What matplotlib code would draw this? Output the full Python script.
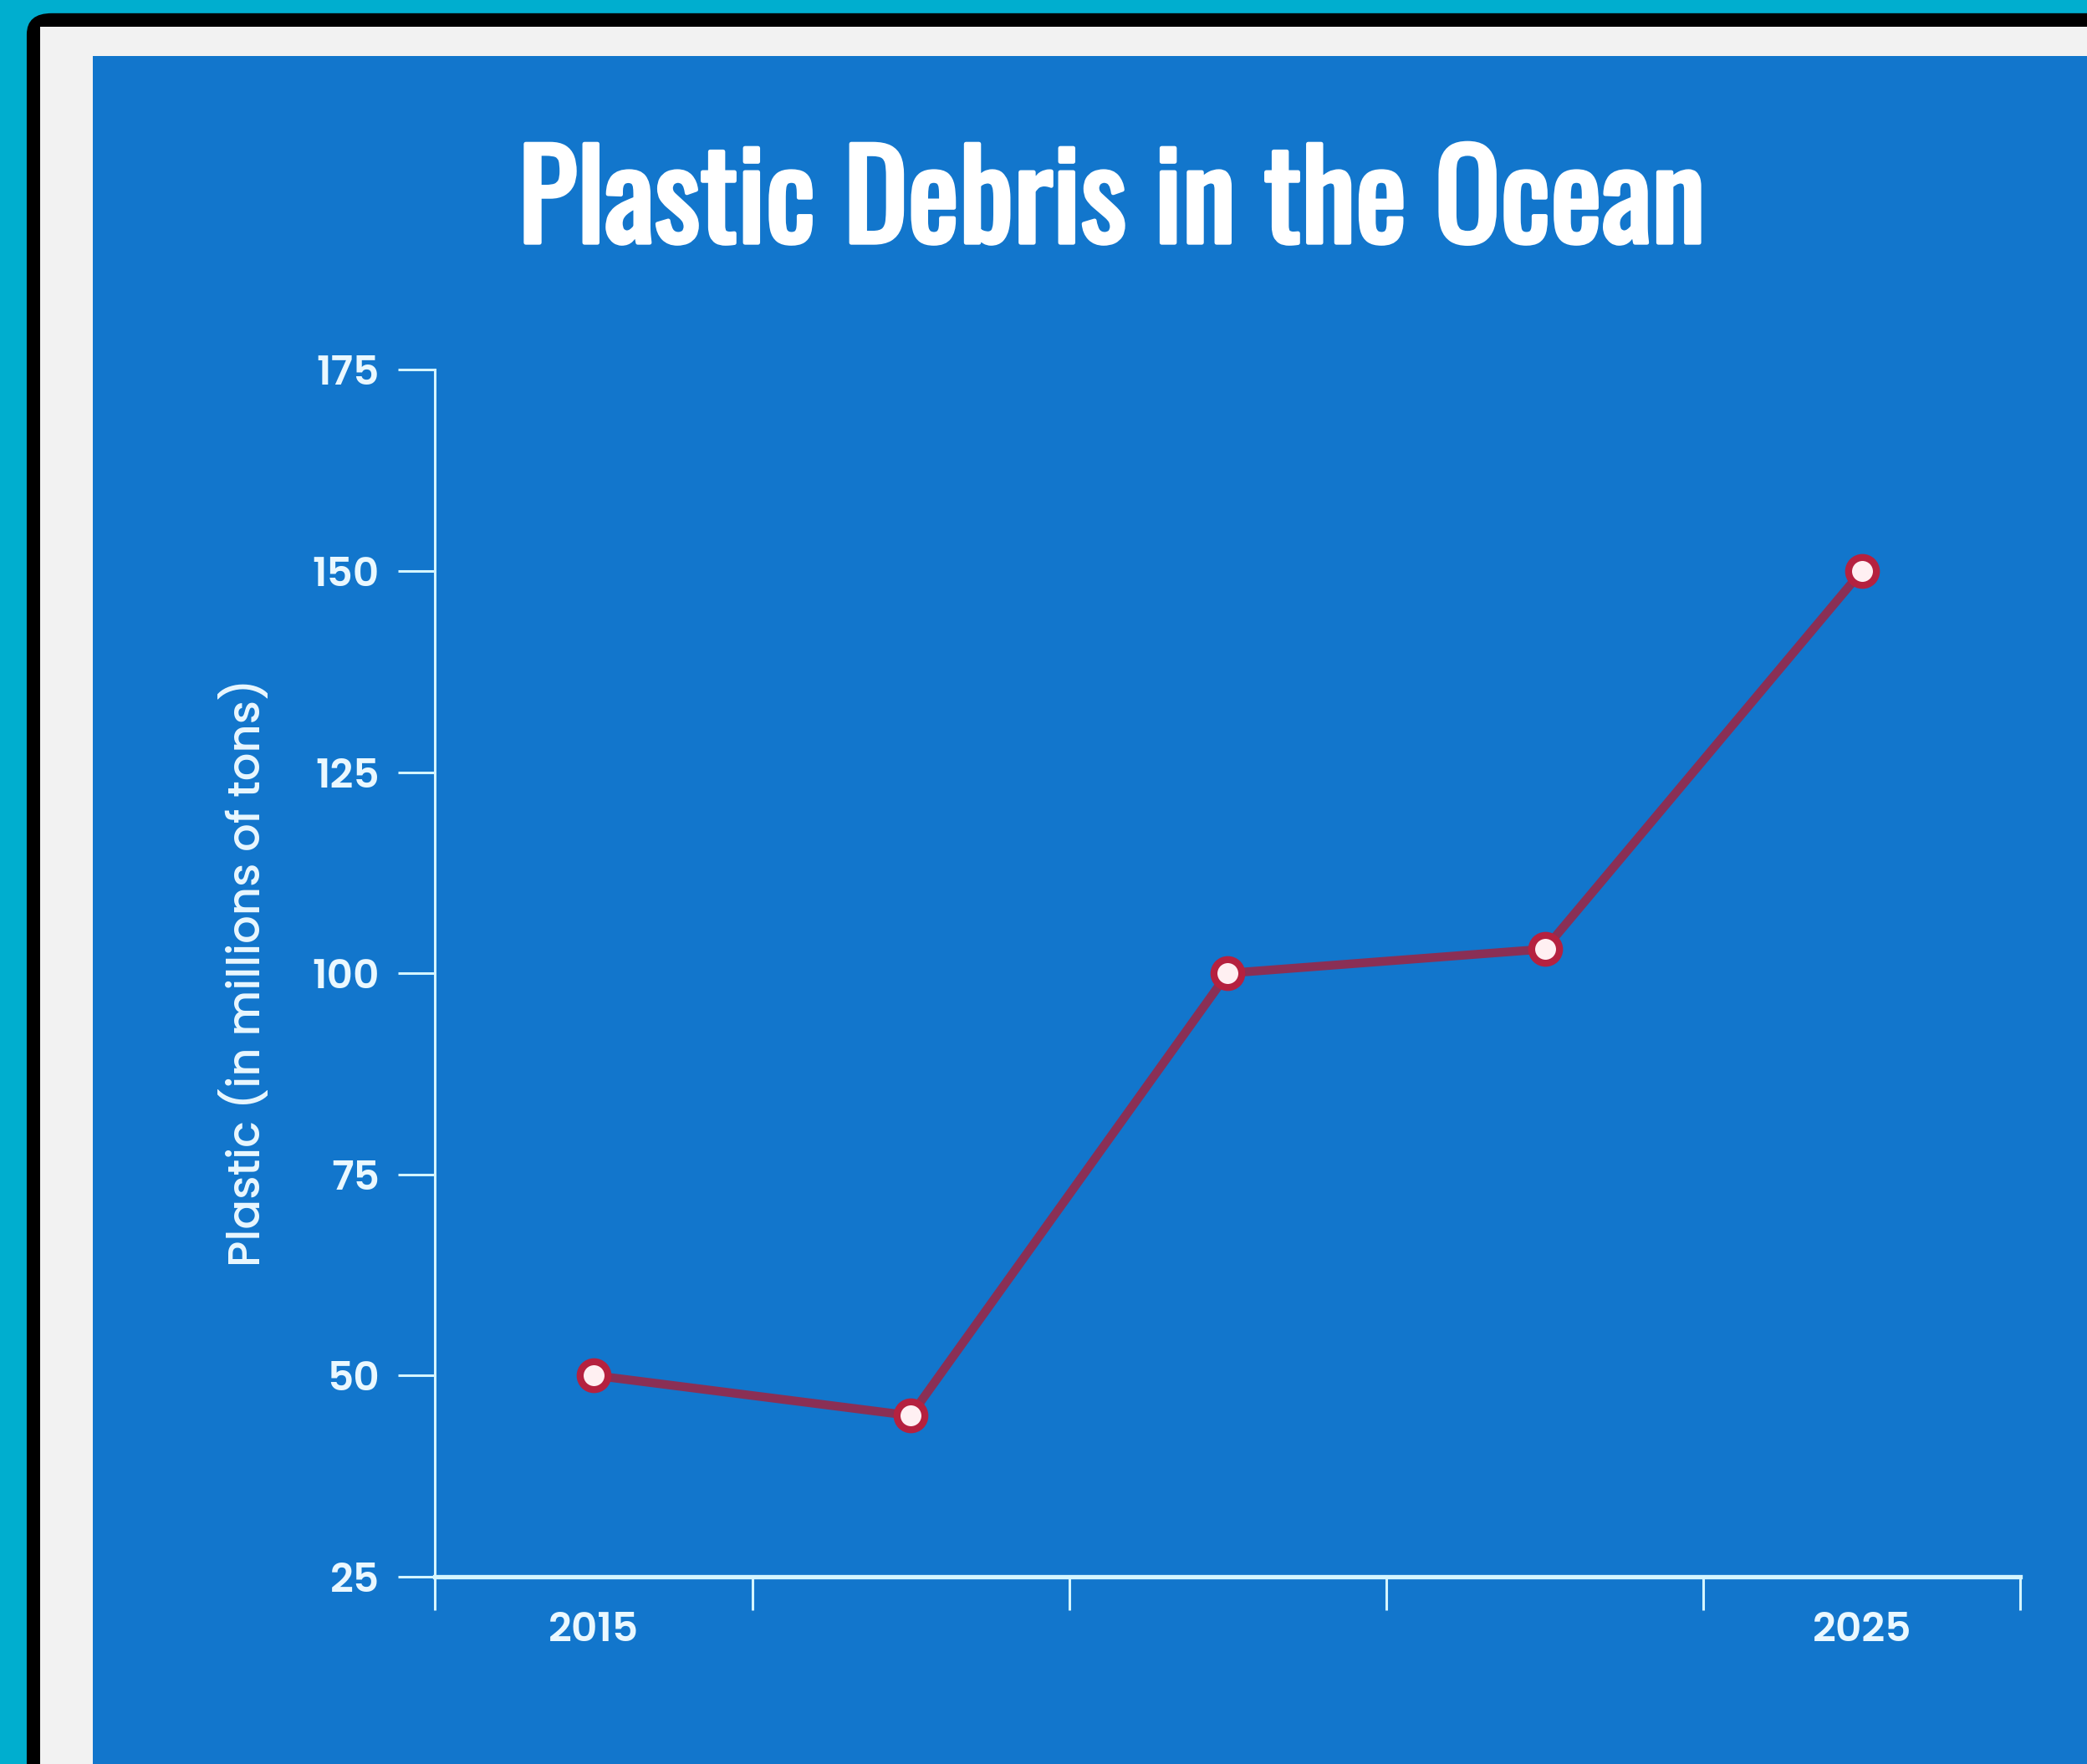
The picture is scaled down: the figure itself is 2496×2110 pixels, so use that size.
import matplotlib
matplotlib.use("Agg")
import matplotlib.pyplot as plt
import matplotlib.patheffects as pe
from matplotlib.patches import FancyBboxPatch, Rectangle

# дані з графіка
years = [2015, 2017.5, 2020, 2022.5, 2025]
plastic = [50, 45, 100, 103, 150]
y_ticks = [25, 50, 75, 100, 125, 150, 175]
x_labels = ["2015", "2025"]

title = "Plastic Debris in the Ocean"
y_title = "Plastic (in millions of tons)"

blue = "#1276cc"
text_col = "#eaf8ff"
axis_col = "#d4f5ff"
title_font = ["Oswald", "Antonio", "DejaVu Sans"]
label_font = ["Poppins", "DejaVu Sans"]

fig = plt.figure(figsize=(24.96, 21.10), dpi=100)
fig.patch.set_facecolor("#00aecf")

# рамки навколо графіка
fig.patches.append(FancyBboxPatch((0.0128, -0.2), 1.2, 1.2 - 0.0075,
                                  boxstyle="round,pad=0,rounding_size=0.012",
                                  transform=fig.transFigure, facecolor="black",
                                  edgecolor="none", zorder=0))
fig.patches.append(Rectangle((0.0191, -0.1), 1.1, 0.985 + 0.1,
                             transform=fig.transFigure, facecolor="#f2f2f2",
                             edgecolor="none", zorder=0))
fig.patches.append(Rectangle((0.0446, -0.1), 1.1, 0.9683 + 0.1,
                             transform=fig.transFigure, facecolor=blue,
                             edgecolor="none", zorder=0))

ax = fig.add_axes([0.2085, 0.1063, 0.9681 - 0.2085, 0.7903 - 0.1063])
ax.set_zorder(2)
ax.set_facecolor("none")

ax.plot(years, plastic, color="#8a2f55", linewidth=7.5, zorder=3,
        marker="o", markersize=24, markerfacecolor="#fff0f2",
        markeredgecolor="#b5213f", markeredgewidth=6, clip_on=False)

ax.set_ylim(25, 175)
ax.set_xlim(2013.75, 2026.25)
ax.set_yticks(y_ticks)
ax.set_xticks([2013.75 + 2.5 * i for i in range(6)])
ax.set_xticklabels([])
ax.set_xticks([2015, 2025], minor=True)
ax.set_xticklabels(x_labels, minor=True)

for side in ["top", "right"]:
    ax.spines[side].set_visible(False)
ax.spines["left"].set_color(axis_col)
ax.spines["left"].set_linewidth(2.2)
ax.spines["bottom"].set_color(axis_col)
ax.spines["bottom"].set_linewidth(3.8)

ax.tick_params(axis="y", length=32, width=2.2, color=axis_col, pad=16,
               labelsize=35, labelcolor=text_col)
ax.tick_params(axis="x", which="major", length=29, width=2.2, color=axis_col)
ax.tick_params(axis="x", which="minor", length=0, pad=30,
               labelsize=35, labelcolor=text_col)
for lab in ax.get_yticklabels() + ax.get_xticklabels(minor=True):
    lab.set_fontweight("semibold")
    lab.set_family(label_font)

fig.text(0.118, 0.4487, y_title, rotation=90, ha="center", va="center",
         fontsize=38, color=text_col, family=label_font, fontweight="medium")

fig.text(0.5325, 0.884, title, ha="center", va="center",
         fontsize=105, color="white", family=title_font,
         path_effects=[pe.withStroke(linewidth=3.5, foreground="white")])

fig.savefig("out.png", dpi=100, facecolor=fig.get_facecolor())
